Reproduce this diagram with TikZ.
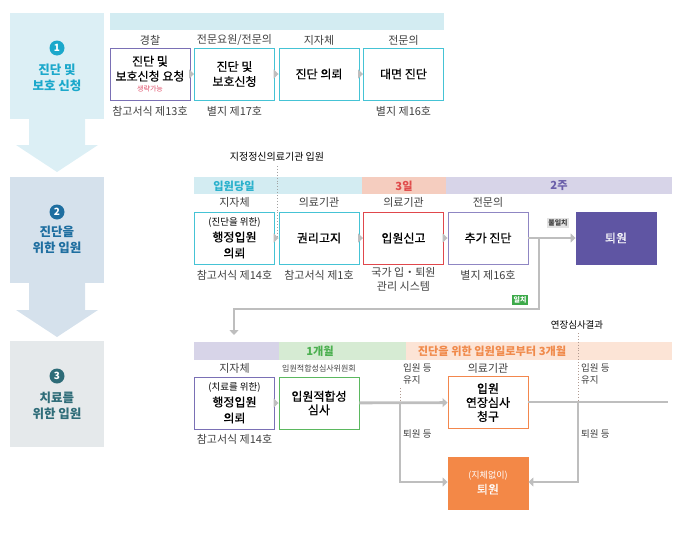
\documentclass[tikz,border=0pt]{standalone}
\usepackage{fontspec}
\setmainfont{Noto Sans CJK KR}
\newfontfamily\medfont[FakeBold=0.6]{Noto Sans CJK KR}
\usetikzlibrary{arrows.meta}
\definecolor{pOneBg}{HTML}{DCEFF5}
\definecolor{pOneTx}{HTML}{1BA8CB}
\definecolor{pTwoBg}{HTML}{D5E1EC}
\definecolor{pTwoTx}{HTML}{1E6EA0}
\definecolor{pThreeBg}{HTML}{E5E9EB}
\definecolor{pThreeTx}{HTML}{2E6C78}
\definecolor{barCyan}{HTML}{D3ECF2}
\definecolor{barSalmon}{HTML}{F5CDBF}
\definecolor{barLav}{HTML}{D7D4E8}
\definecolor{barGreen}{HTML}{D6EBD3}
\definecolor{barPeach}{HTML}{FCE4D6}
\definecolor{bdCyan}{HTML}{45C3D5}
\definecolor{bdPurple}{HTML}{7A70B5}
\definecolor{bdRed}{HTML}{E0474C}
\definecolor{bdLav}{HTML}{8F86C3}
\definecolor{bdGreen}{HTML}{5BB85F}
\definecolor{bdOrange}{HTML}{F3874D}
\definecolor{fillPurple}{HTML}{5F55A3}
\definecolor{fillOrange}{HTML}{F38847}
\definecolor{txCyan}{HTML}{29B1CC}
\definecolor{txRed}{HTML}{E04B4B}
\definecolor{txPurple}{HTML}{6A5EAA}
\definecolor{txGreen}{HTML}{4CB050}
\definecolor{txOrange}{HTML}{F08A4B}
\definecolor{lblGray}{HTML}{404040}
\definecolor{arrGray}{HTML}{BEBEBE}
\definecolor{dotCol}{HTML}{B09A90}
\definecolor{tagGray}{HTML}{E2E2E2}
\definecolor{tagGreen}{HTML}{3DAA4A}
\definecolor{smallRed}{HTML}{E0506A}
\begin{document}
\begin{tikzpicture}[x=1pt,y=-1pt,
  box/.style={draw, line width=0.9pt, fill=white, minimum width=80pt, minimum height=52pt, inner sep=0pt, align=center, font=\fontsize{12}{15}\selectfont\medfont},
  lbl/.style={inner sep=0pt, align=center, text=lblGray, font=\fontsize{11}{14}\selectfont},
  sml/.style={inner sep=0pt, align=left, text=lblGray, font=\fontsize{9.5}{12}\selectfont},
  bartx/.style={inner sep=0pt, font=\fontsize{11.2}{12}\selectfont\bfseries},
  flow/.style={draw=arrGray, line width=2.8pt, -{Triangle[length=5pt,width=9pt]}},
  line/.style={draw=arrGray, line width=2.8pt},
  dotl/.style={draw=dotCol, line width=0.9pt, dotted},
  pnum/.style={circle, inner sep=0pt, minimum size=15pt, text=white, font=\fontsize{10}{10}\selectfont\bfseries},
  ptxt/.style={inner sep=0pt, align=center, font=\fontsize{12.5}{16}\selectfont\bfseries},
  tag/.style={inner sep=1.8pt, font=\fontsize{7}{8}\selectfont\bfseries}
]
\useasboundingbox (0,0) rectangle (682,533);
% ---------- left column ----------
\fill[pOneBg] (10,13) rectangle (104,119);
\fill[pOneBg] (29,119) -- (85,119) -- (85,145) -- (98,145) -- (57,172) -- (16,145) -- (29,145) -- cycle;
\fill[pTwoBg] (10,177) rectangle (104,283);
\fill[pTwoBg] (29,283) -- (85,283) -- (85,310) -- (98,310) -- (57,337) -- (16,310) -- (29,310) -- cycle;
\fill[pThreeBg] (10,341) rectangle (104,447);
\node[pnum, fill=pOneTx] (n1) at (57,48) {1};
\node[ptxt, text=pOneTx] (t1) at (57,78) {진단 및\\보호 신청};
\node[pnum, fill=pTwoTx] (n2) at (57,212) {2};
\node[ptxt, text=pTwoTx] (t2) at (57,240) {진단을\\위한 입원};
\node[pnum, fill=pThreeTx] (n3) at (57,376) {3};
\node[ptxt, text=pThreeTx] (t3) at (57,406) {치료를\\위한 입원};
% ---------- row 1 ----------
\fill[barCyan] (110,13) rectangle (444,30);
\node[box, draw=bdPurple] (a1) at (150,74) {진단 및\\보호신청 요청\\[-4pt]{\rmfamily\fontsize{7}{8}\selectfont\color{smallRed}생략가능}};
\node[box, draw=bdCyan] (a2) at (234.5,74) {진단 및\\보호신청};
\node[box, draw=bdCyan] (a3) at (319,74) {진단 의뢰};
\node[box, draw=bdCyan] (a4) at (403.5,74) {대면 진단};
\draw[flow] (a1) -- (a2);
\draw[flow] (a2) -- (a3);
\draw[flow] (a3) -- (a4);
\node[lbl] (a1t) at (150,40) {경찰};
\node[lbl] (a2t) at (234.5,40) {전문요원/전문의};
\node[lbl] (a3t) at (319,40) {지자체};
\node[lbl] (a4t) at (403.5,40) {전문의};
\node[lbl] (a1b) at (150,111) {참고서식 제13호};
\node[lbl] (a2b) at (234.5,111) {별지 제17호};
\node[lbl] (a4b) at (403.5,111) {별지 제16호};
% ---------- row 2 ----------
\fill[barCyan] (194,177) rectangle (362,194);
\fill[barSalmon] (362,177) rectangle (446,194);
\fill[barLav] (446,177) rectangle (672,194);
\node[bartx, text=txCyan] (r2a) at (234,186) {입원당일};
\node[bartx, text=txRed] (r2b) at (404,186) {3일};
\node[bartx, text=txPurple] (r2c) at (559,186) {2주};
\node[box, draw=bdCyan, font=\fontsize{12}{16}\selectfont\medfont] (b1) at (234.5,238) {{\rmfamily\fontsize{9.5}{11}\selectfont (진단을 위한)}\\행정입원\\의뢰};
\node[box, draw=bdCyan] (b2) at (319,238) {권리고지};
\node[box, draw=bdRed] (b3) at (403.5,238) {입원신고};
\node[box, draw=bdLav] (b4) at (488,238) {추가 진단};
\node[box, draw=fillPurple, fill=fillPurple, text=white] (b5) at (616,238) {퇴원};
\node[lbl] (b1t) at (234.5,202) {지자체};
\node[lbl] (b2t) at (319,202) {의료기관};
\node[lbl] (b3t) at (403.5,202) {의료기관};
\node[lbl] (b4t) at (488,202) {전문의};
\node[lbl] (b1b) at (234.5,275) {참고서식 제14호};
\node[lbl] (b2b) at (319,275) {참고서식 제1호};
\node[lbl, anchor=north] (b3b) at (403.5,267.5) {국가 입・퇴원\\관리 시스템};
\node[lbl] (b4b) at (488,275) {별지 제16호};
\node[sml, text=black, font=\fontsize{10}{12}\selectfont] (dsg) at (277,157) {지정정신의료기관 입원};
\coordinate (dsgtop) at (277,166);
\coordinate (dsgbot) at (277,236);
\draw[dotl, draw=arrGray!85!black] (dsgtop) -- (dsgbot);
\draw[flow] (b1) -- (b2);
\draw[flow] (b2) -- (b3);
\draw[flow] (b3) -- (b4);
\draw[flow] (b4) -- (b5);
\coordinate (br1) at (539,238);
\coordinate (br2) at (539,309);
\coordinate (br3) at (234,309);
\coordinate (br4) at (234,335);
\draw[flow] (br1) -- (br2) -- (br3) -- (br4);
\node[tag, fill=tagGray, text=lblGray] (nomatch) at (558,223) {불일치};
\node[tag, fill=tagGreen, text=white] (match) at (520,300) {일치};
% ---------- row 3 ----------
\fill[barLav] (194,342) rectangle (279,360);
\fill[barGreen] (279,342) rectangle (406,360);
\fill[barPeach] (406,342) rectangle (672,360);
\node[bartx, text=txGreen] (r3a) at (320,351) {1개월};
\node[bartx, text=txOrange] (r3b) at (492,351) {진단을 위한 입원일로부터 3개월};
\node[box, draw=bdPurple, font=\fontsize{12}{16}\selectfont\medfont] (c1) at (234.5,403) {{\rmfamily\fontsize{9.5}{11}\selectfont (치료를 위한)}\\행정입원\\의뢰};
\node[box, draw=bdGreen, font=\fontsize{12}{13.5}\selectfont\medfont] (c2) at (319,403) {입원적합성\\심사};
\node[box, draw=bdOrange, font=\fontsize{12}{14}\selectfont\medfont] (c3) at (488,402.5) {입원\\연장심사\\청구};
\node[box, draw=fillOrange, fill=fillOrange, text=white] (c4) at (488,483) {{\rmfamily\fontsize{9}{11}\selectfont (지체없이)}\\퇴원};
\node[lbl] (c1t) at (234.5,368) {지자체};
\node[lbl, font=\fontsize{8}{9}\selectfont] (c2t) at (319,368) {입원적합성심사위원회};
\node[lbl] (c3t) at (488,368) {의료기관};
\node[lbl] (c1b) at (234.5,439) {참고서식 제14호};
\draw[flow] (c1) -- (c2);
\draw[flow] (c2) -- (c3);
\coordinate (lend) at (668,402);
\draw[line] (c3.east |- lend) -- (lend);
\coordinate (lb1) at (400,402);
\coordinate (lb2) at (400,482);
\coordinate (rb1) at (578,402);
\coordinate (rb2) at (578,482);
\draw[flow] (lb1) -- (lb2) -- (c4.west |- lb2);
\draw[flow] (rb1) -- (rb2) -- (c4.east |- rb2);
\coordinate (ld) at (400,388);
\coordinate (rd) at (578,333);
\draw[dotl] (ld) -- (lb1);
\draw[dotl] (rd) -- (rb1);
\node[sml, text=black] (ext) at (577,325) {연장심사결과};
\node[sml, anchor=north west] (lk) at (403,363.5) {입원 등\\유지};
\node[sml, anchor=north west] (rk) at (581,363.5) {입원 등\\유지};
\node[sml, anchor=west] (lo) at (403,434) {퇴원 등};
\node[sml, anchor=west] (ro) at (581,434) {퇴원 등};
\end{tikzpicture}
\end{document}
